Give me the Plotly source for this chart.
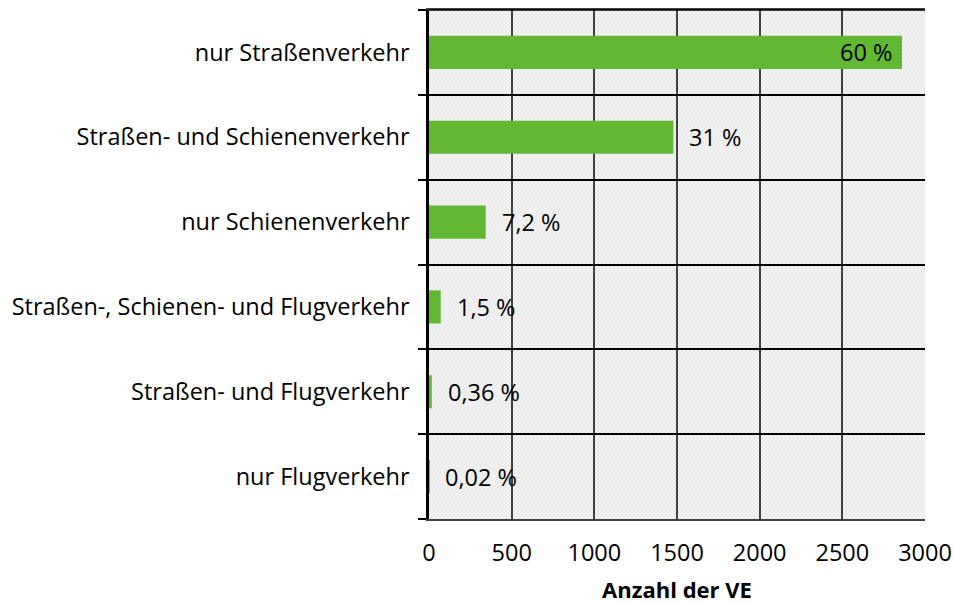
import base64
import plotly.graph_objects as go

categories = ["nur Straßenverkehr", "Straßen- und Schienenverkehr", "nur Schienenverkehr",
              "Straßen-, Schienen- und Flugverkehr", "Straßen- und Flugverkehr", "nur Flugverkehr"]
counts = [2861, 1478, 343, 71, 17, 1]
labels = ["60 %", "31 %", "7,2 %", "1,5 %", "0,36 %", "0,02 %"]
x_ticks = [0, 500, 1000, 1500, 2000, 2500, 3000]

FONT = "Open Sans"
FS = 23.5
W, H = 953, 604
ML, MR, MT, MB = 429, 28, 10, 85
PW, PH = W - ML - MR, H - MT - MB

fig = go.Figure()

fig.add_trace(go.Bar(
    y=categories, x=counts, orientation="h",
    marker=dict(color="#62b832", line=dict(width=0)),
    width=0.39, showlegend=False, hoverinfo="skip",
))

annotations = []
for i, (c, v, t) in enumerate(zip(categories, counts, labels)):
    inside = i == 0
    annotations.append(dict(
        x=v, y=c, xref="x", yref="y", text=t, showarrow=False,
        xanchor="right" if inside else "left",
        xshift=-8 if inside else 14,
        font=dict(family=FONT, size=FS, color="#000000"),
    ))

# subtle diagonal hatch texture for the plot background
svg = (
    f'<svg xmlns="http://www.w3.org/2000/svg" width="{PW}" height="{PH}" '
    f'viewBox="0 0 {PW} {PH}" preserveAspectRatio="none">'
    '<defs><pattern id="h" width="4" height="4" patternUnits="userSpaceOnUse">'
    '<rect width="4" height="4" fill="#ebebeb"/>'
    '<path d="M-1,1 l2,-2 M0,4 l4,-4 M3,5 l2,-2" stroke="#f9f9f9" stroke-width="1"/>'
    '</pattern></defs>'
    f'<rect width="{PW}" height="{PH}" fill="url(#h)"/></svg>'
)
src = "data:image/svg+xml;base64," + base64.b64encode(svg.encode()).decode()

fig.update_layout(
    width=W, height=H,
    margin=dict(l=ML, r=MR, t=MT, b=MB, autoexpand=False),
    paper_bgcolor="white",
    plot_bgcolor="#eeeeee",
    font=dict(family=FONT, size=FS, color="#000000"),
    annotations=annotations,
    images=[dict(source=src, xref="paper", yref="paper", x=0, y=1, sizex=1, sizey=1,
                 xanchor="left", yanchor="top", sizing="stretch", layer="below")],
)
fig.update_xaxes(
    automargin=False,
    range=[0, 3000], tickvals=x_ticks, ticktext=[str(v) for v in x_ticks],
    showgrid=True, gridcolor="#404040", gridwidth=1.5,
    zeroline=False, showline=True, linecolor="#404040", linewidth=1.5, mirror=True,
    ticks="", ticklabelstandoff=12,
    title=dict(text="<b>Anzahl der VE</b>", font=dict(family=FONT, size=22), standoff=17),
    tickfont=dict(family=FONT, size=FS),
)
fig.update_yaxes(
    automargin=False,
    categoryorder="array", categoryarray=categories[::-1],
    tickson="boundaries", ticks="outside", ticklen=8, tickwidth=2, tickcolor="#000000",
    showgrid=True, gridcolor="#000000", gridwidth=1.5,
    showline=True, linecolor="#000000", linewidth=2.5, mirror=False,
    ticklabelstandoff=12,
    tickfont=dict(family=FONT, size=FS),
)
fig.add_shape(type="line", xref="paper", yref="paper", x0=0, x1=1, y0=1, y1=1,
              line=dict(color="#000000", width=1.5))

fig.write_html("out.html", config={"displayModeBar": False},
               post_script="document.body.style.margin='0';document.body.style.overflow='hidden';")
